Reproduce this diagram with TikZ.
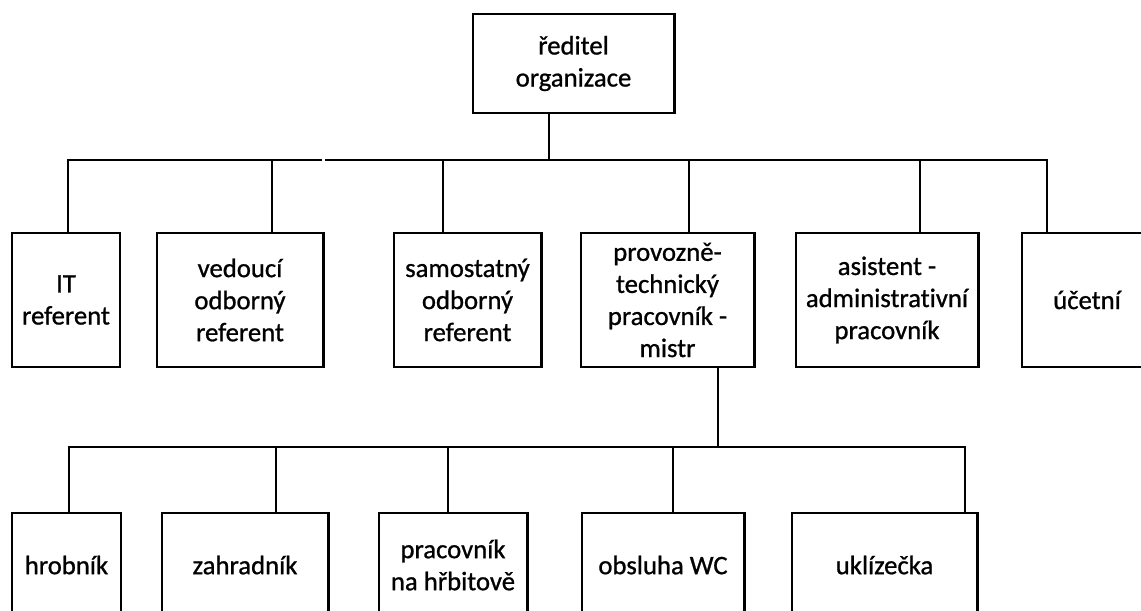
\documentclass[tikz,border=0pt]{standalone}
\usepackage{fontspec}
\setmainfont{Carlito}[Ligatures=NoCommon, FakeBold=0.9]
\tikzset{
  box/.style={draw, line width=2.1pt, align=center, inner sep=0pt,
    font=\fontsize{19}{22.8}\selectfont},
  spoj/.style={line width=2.1pt},
}

\begin{document}
\begin{tikzpicture}[x=0.025cm, y=-0.025cm]
\useasboundingbox (0,0) rectangle (1141,610);
%UZLY
\node[box, minimum width=5.025cm, minimum height=2.475cm] (reditel) at (573.5,63.5) {ředitel\\organizace};
% 2. RADA
\node[box, minimum width=2.7cm, minimum height=3.35cm] (it) at (66,300) {IT\\referent};
\node[box, minimum width=4.15cm, minimum height=3.35cm] (vedouci) at (240,300) {vedoucí\\odborný\\referent};
\node[box, minimum width=3.675cm, minimum height=3.35cm] (samost) at (467.5,300) {samostatný\\odborný\\referent};
\node[box, minimum width=4.325cm, minimum height=3.35cm] (mistr) at (667.5,300) {provozně-\\technický\\pracovník -\\mistr};
\node[box, minimum width=4.55cm, minimum height=3.35cm] (asist) at (887,300) {asistent -\\administrativní\\pracovník};
\node[box, minimum width=3.25cm, minimum height=3.35cm] (ucetni) at (1087,300) {účetní};
% 3. RADA
\node[box, minimum width=2.725cm, minimum height=2.6cm] (hrob) at (66.5,565) {hrobník};
\node[box, minimum width=4.15cm, minimum height=2.6cm] (zahr) at (245,565) {zahradník};
\node[box, minimum width=3.7cm, minimum height=2.6cm] (hrbitov) at (453,565) {pracovník\\na hřbitově};
\node[box, minimum width=4.05cm, minimum height=2.6cm] (wc) at (663,565) {obsluha WC};
\node[box, minimum width=4.625cm, minimum height=2.6cm] (uklid) at (884.5,565) {uklízečka};
%BODY NA SBERNICI
\coordinate (h0) at (549,160);
\coordinate (h1) at (68,160);
\coordinate (h2) at (272,160);
\coordinate (mez1) at (322,160);
\coordinate (mez2) at (325,160);
\coordinate (h3) at (443,160);
\coordinate (h4) at (689,160);
\coordinate (h5) at (920,160);
\coordinate (h6) at (1047,160);
\coordinate (d0) at (718,447);
\coordinate (d1) at (69,447);
\coordinate (d2) at (276,447);
\coordinate (d3) at (448,447);
\coordinate (d4) at (673,447);
\coordinate (d5) at (965,447);
%SPOJNICE
\draw[spoj] (reditel.south -| h0) -- (h0);
\draw[spoj] (it.north -| h1) -- (h1) -- (mez1);
\draw[spoj] (mez2) -- (h6) -- (ucetni.north -| h6);
\draw[spoj] (h2) -- (vedouci.north -| h2);
\draw[spoj] (h3) -- (samost.north -| h3);
\draw[spoj] (h4) -- (mistr.north -| h4);
\draw[spoj] (h5) -- (asist.north -| h5);
\draw[spoj] (mistr.south -| d0) -- (d0);
\draw[spoj] (hrob.north -| d1) -- (d1) -- (d5) -- (uklid.north -| d5);
\draw[spoj] (d2) -- (zahr.north -| d2);
\draw[spoj] (d3) -- (hrbitov.north -| d3);
\draw[spoj] (d4) -- (wc.north -| d4);
\end{tikzpicture}
\end{document}
